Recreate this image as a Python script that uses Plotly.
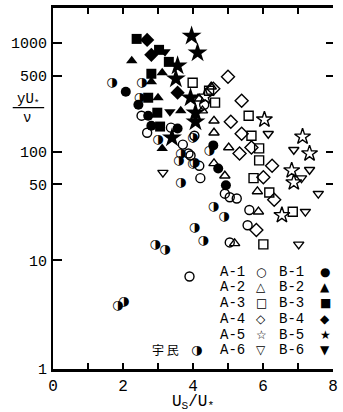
import plotly.graph_objects as go

# ---- data (Us/U*, yU*/nu) ----
a1_x = [2.69, 2.53, 3.37, 3.71, 3.87, 3.93, 4.18, 4.91, 5.05, 5.25, 5.61, 5.56, 5.05, 3.90, 4.04, 4.32, 4.21]
a1_y = [149, 214, 166, 116, 96, 92, 74, 41, 38, 37, 29, 21, 14.6, 7.1, 140, 270, 57]

a2_x = [4.18, 4.27, 4.60, 4.60, 5.02, 4.60, 4.91, 5.84, 5.87, 5.19, 4.52]
a2_y = [306, 238, 192, 149, 109, 78, 60, 43, 28, 14.3, 395]

a3_x = [3.99, 4.46, 4.63, 5.59, 5.67, 5.89, 5.89, 5.73, 6.18, 6.85, 6.01]
a3_y = [430, 363, 282, 214, 140, 107, 83, 57, 42, 28, 14.0]

a4_x = [5.00, 4.58, 5.39, 5.08, 5.39, 5.67, 5.33, 6.26, 6.01, 6.32, 5.81]
a4_y = [488, 378, 294, 188, 146, 109, 96, 74, 58, 36, 19]

a5_x = [4.35, 6.04, 7.13, 7.33, 6.82, 6.88, 6.54]
a5_y = [320, 197, 137, 96, 67, 52, 26]

a6_x = [6.15, 6.88, 7.33, 7.10, 7.58, 7.21, 7.02, 3.14]
a6_y = [146, 104, 68, 57, 41, 28, 14.0, 64]

b1_x = [2.08, 2.44, 2.72, 3.56, 4.58, 4.72, 4.94, 2.81]
b1_y = [355, 270, 214, 163, 114, 70, 49, 173]

b2_x = [2.25, 3.12, 2.81, 3.00, 3.65, 3.12]
b2_y = [684, 531, 439, 313, 238, 107]

b3_x = [2.39, 3.03, 3.31, 2.81, 2.72, 2.98, 3.06]
b3_y = [1088, 863, 669, 520, 313, 228, 170]

b4_x = [2.69, 2.81, 3.56]
b4_y = [1066, 776, 348]

b5_x = [3.96, 4.13, 3.56, 3.51, 3.93, 4.07, 4.07, 3.40]
b5_y = [1159, 810, 615, 468, 313, 228, 188, 134]

b6_x = [3.20, 3.34]
b6_y = [827, 233]

um_x = [1.68, 2.53, 2.47, 3.00, 3.99, 3.59, 3.65, 4.04, 3.65, 4.46, 3.99, 4.58, 4.88, 4.04, 4.29, 2.92, 3.20, 1.85, 2.02]
um_y = [430, 430, 313, 129, 134, 83, 96, 79, 52, 102, 78, 31, 25, 20, 15, 14.0, 12.6, 3.8, 4.2]

y_ticks = [1, 10, 50, 100, 500, 1000]
x_ticks = [0, 1, 2, 3, 4, 5, 6, 7, 8]
x_ticktext = ["0", "", "2", "", "4", "", "6", "", "8"]

legend_rows = [("A-1", "○", "B-1", "●"), ("A-2", "△", "B-2", "▲"), ("A-3", "□", "B-3", "■"),
               ("A-4", "◇", "B-4", "◆"), ("A-5", "☆", "B-5", "★"), ("A-6", "▽", "B-6", "▼")]

MONO = "Liberation Mono"

fig = go.Figure()

def add(xs, ys, sym, size, lw=1.4):
    fig.add_trace(go.Scatter(x=xs, y=ys, mode="markers",
                             marker=dict(symbol=sym, size=size, color="black",
                                         line=dict(color="black", width=lw)),
                             showlegend=False, hoverinfo="skip"))

add(a1_x, a1_y, "circle-open", 9)
add(a2_x, a2_y, "triangle-up-open", 9)
add(a3_x, a3_y, "square-open", 9)
add(a4_x, a4_y, "diamond-open", 10)
add(a5_x, a5_y, "star-open", 12)
add(a6_x, a6_y, "triangle-down-open", 9)
add(b1_x, b1_y, "circle", 10, 0)
add(b2_x, b2_y, "triangle-up", 10, 0)
add(b3_x, b3_y, "square", 10, 0)
add(b4_x, b4_y, "diamond", 11, 0)
add(b5_x, b5_y, "star", 15, 0)
add(b6_x, b6_y, "triangle-down", 10, 0)

fig.add_trace(go.Scatter(x=um_x, y=um_y, mode="text", text=["◑"] * len(um_x),
                         textposition="middle center",
                         textfont=dict(family="DejaVu Sans", size=13, color="black"),
                         showlegend=False, hoverinfo="skip"))

# invisible trace for right axis
fig.add_trace(go.Scatter(x=[None], y=[None], yaxis="y2", showlegend=False, hoverinfo="skip"))

yr = [0, 3.321]
fig.update_layout(
    width=343, height=412,
    margin=dict(l=53, r=5, t=7, b=43),
    paper_bgcolor="white", plot_bgcolor="white",
    showlegend=False,
    xaxis=dict(range=[0, 8], tickvals=x_ticks, ticktext=x_ticktext, ticks="inside",
               ticklen=6, tickwidth=1.5, tickcolor="black", showline=True, linecolor="black",
               linewidth=2.5, mirror="ticks", showgrid=False, zeroline=False,
               tickfont=dict(family=MONO, size=16, color="black"),
               title=dict(text="U<sub>S</sub>/U<sub>*</sub>", font=dict(family=MONO, size=16, color="black"),
                          standoff=0)),
    yaxis=dict(type="log", range=yr, tickvals=y_ticks, ticktext=[str(v) for v in y_ticks],
               ticks="inside", ticklen=9, tickwidth=1.5, tickcolor="black", showline=True,
               linecolor="black", linewidth=2, showgrid=False, zeroline=False,
               tickfont=dict(family=MONO, size=15, color="black"), ticklabelstandoff=1),
    yaxis2=dict(type="log", range=yr, overlaying="y", side="right", anchor="x",
                tickvals=[50, 100, 500, 1000], ticks="inside", ticklen=7, tickwidth=1.5,
                tickcolor="black", showticklabels=False, showline=False, showgrid=False,
                zeroline=False),
)

def px2paper(px, py):
    return (px - 53) / 285.0, (369 - py) / 362.0

row_y = [272, 287, 303, 319, 335, 350]
for (ta, sa, tb, sb), py in zip(legend_rows, row_y):
    for txt, px, fam, sz in [(ta, 236, MONO, 14), (sa, 265, "DejaVu Sans", 12),
                             (tb, 296, MONO, 14), (sb, 330, "DejaVu Sans", 12)]:
        xp, yp = px2paper(px, py)
        fig.add_annotation(x=xp, y=yp, xref="paper", yref="paper", text=txt, showarrow=False,
                           font=dict(family=fam, size=sz, color="black"),
                           xanchor="center", yanchor="middle")

xp, yp = px2paper(168, 349)
fig.add_annotation(x=xp, y=yp, xref="paper", yref="paper", text="宇 民", showarrow=False,
                   font=dict(family="Noto Sans CJK JP", size=12, color="black"),
                   xanchor="center", yanchor="middle")
xp, yp = px2paper(199, 349)
fig.add_annotation(x=xp, y=yp, xref="paper", yref="paper", text="◑", showarrow=False,
                   font=dict(family="DejaVu Sans", size=13, color="black"),
                   xanchor="center", yanchor="middle")

# y-axis title as a fraction
xp, yp = px2paper(28, 99)
fig.add_annotation(x=xp, y=yp, xref="paper", yref="paper", text="yU<sub>*</sub>", showarrow=False,
                   font=dict(family=MONO, size=14, color="black"), xanchor="center", yanchor="middle")
xp, yp = px2paper(27, 117)
fig.add_annotation(x=xp, y=yp, xref="paper", yref="paper", text="ν", showarrow=False,
                   font=dict(family=MONO, size=14, color="black"), xanchor="center", yanchor="middle")
x0, y0 = px2paper(12, 107)
x1, _ = px2paper(44, 107)
fig.add_shape(type="line", xref="paper", yref="paper", x0=x0, x1=x1, y0=y0, y1=y0,
              line=dict(color="black", width=1.2))

fig.write_html("out.html")
